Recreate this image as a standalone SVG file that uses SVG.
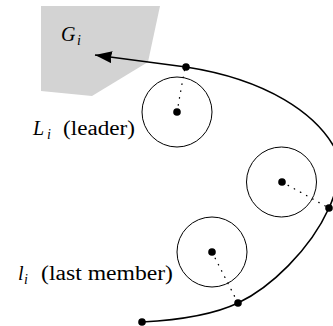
<svg xmlns="http://www.w3.org/2000/svg" width="333" height="326" viewBox="0 0 333 326">
<style>
.lbl{font-family:'Liberation Serif','DejaVu Serif',serif;font-size:20px;fill:#000}
.it{font-style:italic}
.sub{font-family:'Liberation Serif','DejaVu Serif',serif;font-style:italic;font-size:14px;fill:#000}
.circ{fill:none;stroke:#000;stroke-width:1}
.dot{fill:#000}
.dotted{stroke:#000;stroke-width:1.3;stroke-dasharray:0.5 6.5;stroke-linecap:round;fill:none}
.curve{fill:none;stroke:#000;stroke-width:1.6}
</style>
<defs>
<marker id="ah" markerWidth="17" markerHeight="12" refX="17" refY="6" orient="auto" markerUnits="userSpaceOnUse">
<path d="M0,0 L17,6 L0,12 L1,6 Z" fill="#000"/>
</marker>
</defs>
<g id="region">
<polygon points="41,6 160,6 148,62 92,96 41,91" fill="#d3d3d3"/>
<text class="lbl it" x="61" y="41">G</text><text class="sub" x="77" y="45">i</text>
</g>
<g id="connectors">
<path class="curve" d="M142,322 C180,320 215,314 238,303 C270,288 310,250 329,208 C337,190 345,165 333,145 C315,115 270,80 186,67 L95,55" marker-end="url(#ah)"/>
<line class="dotted" x1="177" y1="112" x2="185" y2="67"/>
<line class="dotted" x1="282" y1="182" x2="329" y2="208"/>
<line class="dotted" x1="212" y1="252" x2="238" y2="303"/>
</g>
<g id="leader">
<circle class="circ" cx="177" cy="112" r="35"/>
<circle class="dot" cx="177" cy="112" r="3.8"/>
<circle class="dot" cx="186" cy="67" r="3.8"/>
<text class="lbl it" x="33" y="135">L</text><text class="sub" x="47" y="139">i</text>
<text class="lbl" x="63" y="135" textLength="72" lengthAdjust="spacingAndGlyphs">(leader)</text>
</g>
<g id="member">
<circle class="circ" cx="281.5" cy="182" r="35"/>
<circle class="dot" cx="282" cy="182" r="3.8"/>
<circle class="dot" cx="329" cy="208" r="3.8"/>
</g>
<g id="last">
<circle class="circ" cx="212" cy="252" r="35"/>
<circle class="dot" cx="212" cy="252" r="3.8"/>
<circle class="dot" cx="238" cy="303" r="3.8"/>
<circle class="dot" cx="142" cy="322" r="3.8"/>
<text class="lbl it" x="18" y="280">l</text><text class="sub" x="24" y="284">i</text>
<text class="lbl" x="41" y="280" textLength="132" lengthAdjust="spacingAndGlyphs">(last member)</text>
</g>
</svg>
